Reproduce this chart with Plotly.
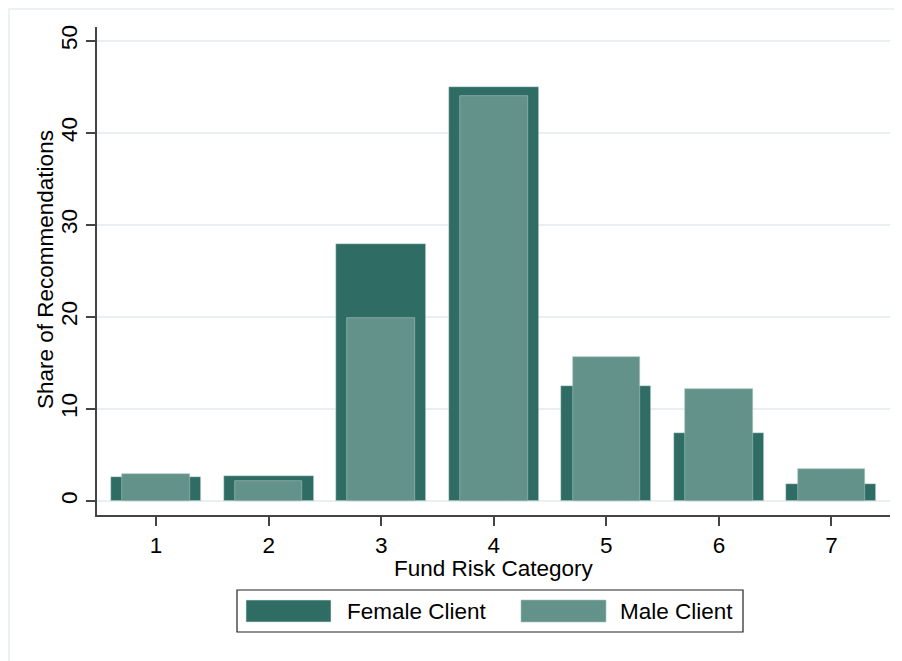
import plotly.graph_objects as go

categories = [1, 2, 3, 4, 5, 6, 7]
female_share = [2.6, 2.75, 27.9, 45.0, 12.5, 7.35, 1.85]
male_share = [2.9, 2.15, 19.9, 44.0, 15.6, 12.2, 3.5]
y_ticks = [0, 10, 20, 30, 40, 50]

FEMALE = "#2e6c64"
MALE = "#62928a"
FONT = "Liberation Sans, Arial, sans-serif"
FS = 22.5

fig = go.Figure()
fig.add_trace(go.Bar(x=categories, y=female_share, width=0.8, name="Female Client",
                     marker=dict(color=FEMALE, line=dict(color="#d8e6e4", width=0.6))))
fig.add_trace(go.Bar(x=categories, y=male_share, width=0.6, name="Male Client",
                     marker=dict(color=MALE, line=dict(color="#a9c4c0", width=0.6))))

# the page body has an 8px margin; reference pixel coords are page coords
OFF = 8
W, H = 902 - OFF, 661 - OFF
L, R, T, B = 97, 890, 27, 515          # plot area in reference pixels
pw, ph = R - L, B - T

def px(x):
    return (x - L) / pw

def py(y):
    return (B - y) / ph

fig.update_layout(
    width=W, height=H,
    margin=dict(l=L - OFF, r=(W + OFF) - R, t=T - OFF, b=(H + OFF) - B),
    barmode="overlay",
    bargap=0,
    showlegend=False,
    plot_bgcolor="white",
    paper_bgcolor="white",
    font=dict(family=FONT, size=FS, color="black"),
    xaxis=dict(
        range=[0.475, 7.52],
        tickmode="array", tickvals=categories, ticktext=[str(c) for c in categories],
        ticks="outside", ticklen=9, tickwidth=1.5, tickcolor="#444",
        showline=True, linecolor="#444", linewidth=1.5,
        showgrid=False, zeroline=False,
        ticklabelstandoff=0,
    ),
    yaxis=dict(
        range=[-1.52, 51.5],
        tickmode="array", tickvals=y_ticks,
        tickangle=-90,
        ticks="outside", ticklen=9, tickwidth=1.5, tickcolor="#444",
        showline=True, linecolor="#444", linewidth=1.5,
        showgrid=True, gridcolor="#e8f0f1", gridwidth=1.5,
        zeroline=False,
        ticklabelstandoff=0,
    ),
)

shapes = []
# outer frame (as close to the page corner as the figure allows)
shapes.append(dict(type="rect", xref="paper", yref="paper",
                   x0=px(9), x1=px(912), y0=py(680), y1=py(9),
                   line=dict(color="#e6eef0", width=1.5), fillcolor="rgba(0,0,0,0)", layer="below"))
# legend box
shapes.append(dict(type="rect", xref="paper", yref="paper",
                   x0=px(237), x1=px(743), y0=py(632), y1=py(590),
                   line=dict(color="#222", width=1.2), fillcolor="white"))
shapes.append(dict(type="rect", xref="paper", yref="paper",
                   x0=px(246), x1=px(331), y0=py(622), y1=py(600),
                   line=dict(color="#d8e6e4", width=0.6), fillcolor=FEMALE))
shapes.append(dict(type="rect", xref="paper", yref="paper",
                   x0=px(521), x1=px(606), y0=py(622), y1=py(600),
                   line=dict(color="#a9c4c0", width=0.6), fillcolor=MALE))
fig.update_layout(shapes=shapes)

# axis titles
fig.add_annotation(xref="paper", yref="paper", x=px(494), y=py(568), text="Fund Risk Category",
                   showarrow=False, xanchor="center", yanchor="middle", borderpad=0,
                   font=dict(size=FS))
fig.add_annotation(xref="paper", yref="paper", x=px(45), y=py(270), text="Share of Recommendations",
                   textangle=-90, showarrow=False, xanchor="center", yanchor="middle",
                   font=dict(size=FS))

# legend labels
fig.add_annotation(xref="paper", yref="paper", x=px(345), y=py(611), text="Female Client",
                   showarrow=False, xanchor="left", yanchor="middle", font=dict(size=FS))
fig.add_annotation(xref="paper", yref="paper", x=px(618), y=py(611), text="Male Client",
                   showarrow=False, xanchor="left", yanchor="middle", font=dict(size=FS))

fig.write_html("out.html")
